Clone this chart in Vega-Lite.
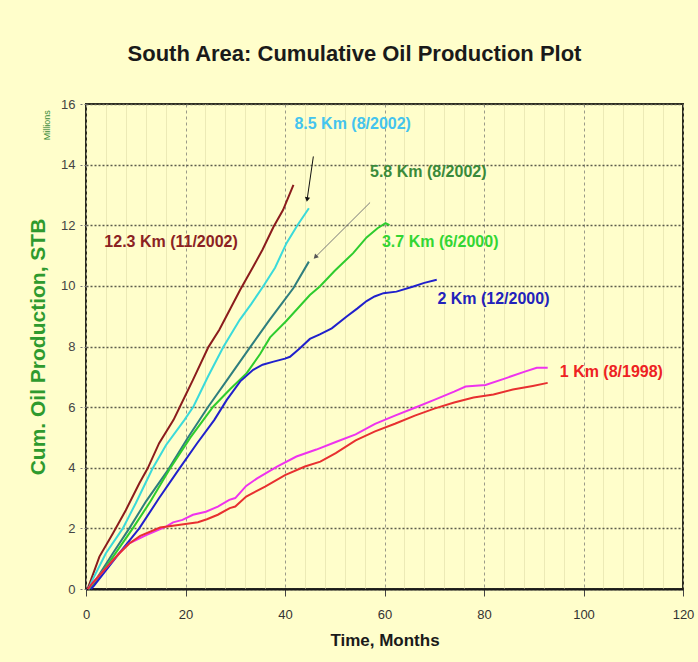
{
  "$schema": "https://vega.github.io/schema/vega-lite/v6.json",
  "width": 597,
  "height": 485,
  "autosize": {"type": "none"},
  "padding": {"left": 86, "top": 104, "right": 15, "bottom": 73},
  "background": "#FFFECB",
  "title": {
    "text": "South Area: Cumulative Oil Production Plot",
    "font": "Liberation Sans Narrow, Arial Narrow, Liberation Sans, sans-serif",
    "fontSize": 22,
    "fontWeight": "bold",
    "color": "#1a1a1a",
    "anchor": "middle",
    "frame": "group",
    "dx": -30,
    "offset": 32
  },
  "config": {
    "view": {"stroke": "#2b2b1f", "strokeWidth": 2},
    "font": "Liberation Sans Narrow, Arial Narrow, Liberation Sans, sans-serif"
  },
  "datasets": {
    "curves": [
      {"series": "12.3 Km", "month": 0.3, "value": 0},
      {"series": "12.3 Km", "month": 1.0, "value": 0.3},
      {"series": "12.3 Km", "month": 2.7, "value": 1.07},
      {"series": "12.3 Km", "month": 5.4, "value": 1.83},
      {"series": "12.3 Km", "month": 8.0, "value": 2.6},
      {"series": "12.3 Km", "month": 10.7, "value": 3.48},
      {"series": "12.3 Km", "month": 12.4, "value": 3.98},
      {"series": "12.3 Km", "month": 14.7, "value": 4.81},
      {"series": "12.3 Km", "month": 17.6, "value": 5.58},
      {"series": "12.3 Km", "month": 18.9, "value": 6.02},
      {"series": "12.3 Km", "month": 21.5, "value": 6.9},
      {"series": "12.3 Km", "month": 24.6, "value": 7.98},
      {"series": "12.3 Km", "month": 26.8, "value": 8.55},
      {"series": "12.3 Km", "month": 28.9, "value": 9.21},
      {"series": "12.3 Km", "month": 31.0, "value": 9.87},
      {"series": "12.3 Km", "month": 33.6, "value": 10.63},
      {"series": "12.3 Km", "month": 35.5, "value": 11.2},
      {"series": "12.3 Km", "month": 37.7, "value": 11.95},
      {"series": "12.3 Km", "month": 39.6, "value": 12.5},
      {"series": "12.3 Km", "month": 41.7, "value": 13.33},

      {"series": "8.5 Km", "month": 0.5, "value": 0},
      {"series": "8.5 Km", "month": 1.3, "value": 0.3},
      {"series": "8.5 Km", "month": 4.0, "value": 1.18},
      {"series": "8.5 Km", "month": 7.4, "value": 2.0},
      {"series": "8.5 Km", "month": 10.0, "value": 2.83},
      {"series": "8.5 Km", "month": 13.3, "value": 3.95},
      {"series": "8.5 Km", "month": 16.1, "value": 4.75},
      {"series": "8.5 Km", "month": 19.8, "value": 5.58},
      {"series": "8.5 Km", "month": 21.6, "value": 6.02},
      {"series": "8.5 Km", "month": 24.5, "value": 7.0},
      {"series": "8.5 Km", "month": 27.6, "value": 7.98},
      {"series": "8.5 Km", "month": 30.9, "value": 8.88},
      {"series": "8.5 Km", "month": 33.2, "value": 9.4},
      {"series": "8.5 Km", "month": 35.6, "value": 9.98},
      {"series": "8.5 Km", "month": 38.0, "value": 10.6},
      {"series": "8.5 Km", "month": 40.3, "value": 11.41},
      {"series": "8.5 Km", "month": 42.5, "value": 12.0},
      {"series": "8.5 Km", "month": 44.8, "value": 12.56},

      {"series": "5.8 Km", "month": 0.6, "value": 0},
      {"series": "5.8 Km", "month": 2.0, "value": 0.3},
      {"series": "5.8 Km", "month": 5.4, "value": 1.18},
      {"series": "5.8 Km", "month": 8.7, "value": 2.0},
      {"series": "5.8 Km", "month": 12.1, "value": 2.9},
      {"series": "5.8 Km", "month": 16.5, "value": 3.93},
      {"series": "5.8 Km", "month": 20.5, "value": 5.0},
      {"series": "5.8 Km", "month": 24.6, "value": 6.02},
      {"series": "5.8 Km", "month": 28.8, "value": 7.0},
      {"series": "5.8 Km", "month": 33.0, "value": 7.98},
      {"series": "5.8 Km", "month": 36.9, "value": 8.88},
      {"series": "5.8 Km", "month": 39.5, "value": 9.45},
      {"series": "5.8 Km", "month": 41.7, "value": 9.93},
      {"series": "5.8 Km", "month": 44.8, "value": 10.8},

      {"series": "3.7 Km", "month": 0.6, "value": 0},
      {"series": "3.7 Km", "month": 2.2, "value": 0.3},
      {"series": "3.7 Km", "month": 5.6, "value": 1.1},
      {"series": "3.7 Km", "month": 9.4, "value": 2.0},
      {"series": "3.7 Km", "month": 13.0, "value": 2.9},
      {"series": "3.7 Km", "month": 16.8, "value": 3.95},
      {"series": "3.7 Km", "month": 21.0, "value": 5.0},
      {"series": "3.7 Km", "month": 25.6, "value": 6.02},
      {"series": "3.7 Km", "month": 29.0, "value": 6.6},
      {"series": "3.7 Km", "month": 32.3, "value": 7.12},
      {"series": "3.7 Km", "month": 35.0, "value": 7.75},
      {"series": "3.7 Km", "month": 37.0, "value": 8.3},
      {"series": "3.7 Km", "month": 40.3, "value": 8.85},
      {"series": "3.7 Km", "month": 45.0, "value": 9.7},
      {"series": "3.7 Km", "month": 47.0, "value": 9.98},
      {"series": "3.7 Km", "month": 50.0, "value": 10.5},
      {"series": "3.7 Km", "month": 53.7, "value": 11.08},
      {"series": "3.7 Km", "month": 56.4, "value": 11.6},
      {"series": "3.7 Km", "month": 58.6, "value": 11.9},
      {"series": "3.7 Km", "month": 60.2, "value": 12.07},
      {"series": "3.7 Km", "month": 61.0, "value": 12.0},

      {"series": "2 Km", "month": 1.0, "value": 0},
      {"series": "2 Km", "month": 1.7, "value": 0.13},
      {"series": "2 Km", "month": 6.7, "value": 1.18},
      {"series": "2 Km", "month": 10.7, "value": 2.0},
      {"series": "2 Km", "month": 14.7, "value": 3.0},
      {"series": "2 Km", "month": 18.8, "value": 3.98},
      {"series": "2 Km", "month": 22.3, "value": 4.8},
      {"series": "2 Km", "month": 25.8, "value": 5.58},
      {"series": "2 Km", "month": 28.3, "value": 6.24},
      {"series": "2 Km", "month": 31.0, "value": 6.85},
      {"series": "2 Km", "month": 33.6, "value": 7.23},
      {"series": "2 Km", "month": 35.5, "value": 7.4},
      {"series": "2 Km", "month": 37.7, "value": 7.5},
      {"series": "2 Km", "month": 40.0, "value": 7.6},
      {"series": "2 Km", "month": 41.0, "value": 7.66},
      {"series": "2 Km", "month": 43.0, "value": 7.94},
      {"series": "2 Km", "month": 45.0, "value": 8.25},
      {"series": "2 Km", "month": 47.0, "value": 8.4},
      {"series": "2 Km", "month": 49.4, "value": 8.6},
      {"series": "2 Km", "month": 52.4, "value": 8.99},
      {"series": "2 Km", "month": 54.5, "value": 9.25},
      {"series": "2 Km", "month": 56.4, "value": 9.5},
      {"series": "2 Km", "month": 58.0, "value": 9.65},
      {"series": "2 Km", "month": 59.8, "value": 9.76},
      {"series": "2 Km", "month": 62.4, "value": 9.81},
      {"series": "2 Km", "month": 65.8, "value": 9.98},
      {"series": "2 Km", "month": 68.0, "value": 10.1},
      {"series": "2 Km", "month": 70.5, "value": 10.2},

      {"series": "1 Km alt", "month": 0.4, "value": 0},
      {"series": "1 Km alt", "month": 1.3, "value": 0.19},
      {"series": "1 Km alt", "month": 3.5, "value": 0.6},
      {"series": "1 Km alt", "month": 6.7, "value": 1.18},
      {"series": "1 Km alt", "month": 8.7, "value": 1.51},
      {"series": "1 Km alt", "month": 12.1, "value": 1.78},
      {"series": "1 Km alt", "month": 16.1, "value": 2.06},
      {"series": "1 Km alt", "month": 17.5, "value": 2.2},
      {"series": "1 Km alt", "month": 19.4, "value": 2.28},
      {"series": "1 Km alt", "month": 21.5, "value": 2.45},
      {"series": "1 Km alt", "month": 24.1, "value": 2.55},
      {"series": "1 Km alt", "month": 26.5, "value": 2.72},
      {"series": "1 Km alt", "month": 28.8, "value": 2.94},
      {"series": "1 Km alt", "month": 30.0, "value": 3.0},
      {"series": "1 Km alt", "month": 32.2, "value": 3.4},
      {"series": "1 Km alt", "month": 34.4, "value": 3.65},
      {"series": "1 Km alt", "month": 38.4, "value": 4.04},
      {"series": "1 Km alt", "month": 42.3, "value": 4.37},
      {"series": "1 Km alt", "month": 46.3, "value": 4.6},
      {"series": "1 Km alt", "month": 50.2, "value": 4.85},
      {"series": "1 Km alt", "month": 54.2, "value": 5.1},
      {"series": "1 Km alt", "month": 58.1, "value": 5.45},
      {"series": "1 Km alt", "month": 62.1, "value": 5.72},
      {"series": "1 Km alt", "month": 66.1, "value": 5.98},
      {"series": "1 Km alt", "month": 70.0, "value": 6.24},
      {"series": "1 Km alt", "month": 74.0, "value": 6.51},
      {"series": "1 Km alt", "month": 76.3, "value": 6.68},
      {"series": "1 Km alt", "month": 80.3, "value": 6.73},
      {"series": "1 Km alt", "month": 84.3, "value": 6.95},
      {"series": "1 Km alt", "month": 88.2, "value": 7.17},
      {"series": "1 Km alt", "month": 90.6, "value": 7.3},
      {"series": "1 Km alt", "month": 92.8, "value": 7.3},

      {"series": "1 Km", "month": 0.4, "value": 0},
      {"series": "1 Km", "month": 1.3, "value": 0.19},
      {"series": "1 Km", "month": 3.5, "value": 0.6},
      {"series": "1 Km", "month": 6.7, "value": 1.18},
      {"series": "1 Km", "month": 8.7, "value": 1.5},
      {"series": "1 Km", "month": 10.9, "value": 1.75},
      {"series": "1 Km", "month": 14.9, "value": 2.03},
      {"series": "1 Km", "month": 18.9, "value": 2.12},
      {"series": "1 Km", "month": 22.5, "value": 2.2},
      {"series": "1 Km", "month": 24.3, "value": 2.3},
      {"series": "1 Km", "month": 26.5, "value": 2.45},
      {"series": "1 Km", "month": 28.9, "value": 2.67},
      {"series": "1 Km", "month": 30.0, "value": 2.72},
      {"series": "1 Km", "month": 32.2, "value": 3.05},
      {"series": "1 Km", "month": 36.0, "value": 3.38},
      {"series": "1 Km", "month": 40.0, "value": 3.76},
      {"series": "1 Km", "month": 44.0, "value": 4.04},
      {"series": "1 Km", "month": 47.1, "value": 4.2},
      {"series": "1 Km", "month": 50.2, "value": 4.48},
      {"series": "1 Km", "month": 54.2, "value": 4.9},
      {"series": "1 Km", "month": 58.1, "value": 5.2},
      {"series": "1 Km", "month": 62.1, "value": 5.45},
      {"series": "1 Km", "month": 66.1, "value": 5.72},
      {"series": "1 Km", "month": 70.0, "value": 5.95},
      {"series": "1 Km", "month": 74.0, "value": 6.15},
      {"series": "1 Km", "month": 77.9, "value": 6.32},
      {"series": "1 Km", "month": 81.9, "value": 6.42},
      {"series": "1 Km", "month": 85.8, "value": 6.58},
      {"series": "1 Km", "month": 89.8, "value": 6.7},
      {"series": "1 Km", "month": 92.8, "value": 6.8}
    ],
    "labels": [
      {"label": "12.3 Km (11/2002)", "month": 17.1, "value": 11.45},
      {"label": "8.5 Km (8/2002)", "month": 53.6, "value": 15.35},
      {"label": "5.8 Km (8/2002)", "month": 68.8, "value": 13.77},
      {"label": "3.7 Km (6/2000)", "month": 71.2, "value": 11.44},
      {"label": "2 Km (12/2000)", "month": 81.9, "value": 9.57},
      {"label": "1 Km (8/1998)", "month": 105.6, "value": 7.17}
    ],
    "arrows": [
      {"arrow": "a1", "month": 45.7, "value": 14.27, "month2": 44.45, "value2": 12.85},
      {"arrow": "a2", "month": 57.1, "value": 12.75, "month2": 46.1, "value2": 10.95}
    ],
    "notes": [
      {"text": "Millions", "month": -7.8, "value": 15.3}
    ]
  },
  "resolve": {"scale": {"color": "independent"}},
  "layer": [
    {
      "data": {"name": "curves"},
      "mark": {"type": "line", "strokeWidth": 2, "interpolate": "linear"},
      "encoding": {
        "x": {
          "field": "month", "type": "quantitative",
          "scale": {"domain": [0, 120], "nice": false},
          "axis": {
            "values": [0,4,8,12,16,20,24,28,32,36,40,44,48,52,56,60,64,68,72,76,80,84,88,92,96,100,104,108,112,116,120],
            "tickCount": 40,
            "labelExpr": "datum.value % 20 === 0 ? datum.label : ''",
            "labelOverlap": false,
            "labelFlush": false,
            "grid": true,
            "gridColor": {"condition": {"test": "datum.value % 20 === 0", "value": "#9a9a88"}, "value": "#ECEAB6"},
            "gridDash": {"condition": {"test": "datum.value % 20 === 0", "value": [3, 3]}, "value": []},
            "gridWidth": 1,
            "tickOpacity": {"condition": {"test": "datum.value % 20 === 0", "value": 1}, "value": 0},
            "tickSize": 7,
            "tickColor": "#444",
            "domainColor": "#1a1a1a",
            "domainWidth": 2,
            "labelFontSize": 13,
            "labelColor": "#333",
            "labelPadding": 12,
            "title": "Time, Months",
            "titleFontSize": 17,
            "titleFontWeight": "bold",
            "titleColor": "#1a1a1a",
            "titlePadding": 11
          }
        },
        "y": {
          "field": "value", "type": "quantitative",
          "scale": {"domain": [0, 16], "nice": false},
          "axis": {
            "values": [0,2,4,6,8,10,12,14,16],
            "tickCount": 20,
            "grid": true,
            "gridColor": "#5c5c4c",
            "gridDash": [2, 2],
            "gridWidth": 1.3,
            "tickSize": 8,
            "tickColor": "#777",
            "tickDash": [2, 2],
            "domain": false,
            "labelFontSize": 13,
            "labelColor": "#444",
            "labelPadding": 3,
            "title": "Cum. Oil Production, STB",
            "titleFont": "Liberation Sans, Arial, sans-serif",
            "titleFontSize": 21,
            "titleFontWeight": "bold",
            "titleColor": "#2E9A2E",
            "titlePadding": 12
          }
        },
        "color": {
          "field": "series", "type": "nominal",
          "scale": {
            "domain": ["12.3 Km", "8.5 Km", "5.8 Km", "3.7 Km", "2 Km", "1 Km alt", "1 Km"],
            "range": ["#8B1C1C", "#3ADADA", "#2E7E7E", "#2ECC2E", "#2020CC", "#EE33EE", "#E83030"]
          },
          "legend": null
        },
        "detail": {"field": "series"}
      }
    },
    {
      "data": {"name": "labels"},
      "mark": {"type": "text", "fontSize": 16, "fontWeight": "bold", "align": "center", "baseline": "middle"},
      "encoding": {
        "x": {"field": "month", "type": "quantitative"},
        "y": {"field": "value", "type": "quantitative"},
        "text": {"field": "label"},
        "color": {
          "field": "label", "type": "nominal",
          "scale": {
            "domain": ["12.3 Km (11/2002)", "8.5 Km (8/2002)", "5.8 Km (8/2002)", "3.7 Km (6/2000)", "2 Km (12/2000)", "1 Km (8/1998)"],
            "range": ["#8B2222", "#44C4EE", "#3A8A3A", "#33D633", "#2222BB", "#EE2222"]
          },
          "legend": null
        }
      }
    },
    {
      "data": {"name": "arrows"},
      "mark": {"type": "rule", "strokeWidth": 1},
      "encoding": {
        "x": {"field": "month", "type": "quantitative"},
        "y": {"field": "value", "type": "quantitative"},
        "x2": {"field": "month2"},
        "y2": {"field": "value2"},
        "color": {
          "field": "arrow", "type": "nominal",
          "scale": {"domain": ["a1", "a2"], "range": ["#111111", "#777777"]},
          "legend": null
        }
      }
    },
    {
      "data": {"name": "arrows"},
      "transform": [{"filter": "datum.arrow === 'a1'"}],
      "mark": {"type": "point", "shape": "triangle-down", "filled": true, "size": 28, "angle": 9, "color": "#111111", "opacity": 1},
      "encoding": {
        "x": {"field": "month2", "type": "quantitative"},
        "y": {"field": "value2", "type": "quantitative"}
      }
    },
    {
      "data": {"name": "arrows"},
      "transform": [{"filter": "datum.arrow === 'a2'"}],
      "mark": {"type": "point", "shape": "triangle-down", "filled": true, "size": 28, "angle": 45, "color": "#555555", "opacity": 1},
      "encoding": {
        "x": {"field": "month2", "type": "quantitative"},
        "y": {"field": "value2", "type": "quantitative"}
      }
    },
    {
      "data": {"name": "notes"},
      "mark": {"type": "text", "fontSize": 9, "angle": 270, "color": "#3A8A3A", "align": "center", "baseline": "middle", "font": "Liberation Sans, Arial, sans-serif"},
      "encoding": {
        "x": {"field": "month", "type": "quantitative"},
        "y": {"field": "value", "type": "quantitative"},
        "text": {"field": "text"}
      }
    }
  ]
}
